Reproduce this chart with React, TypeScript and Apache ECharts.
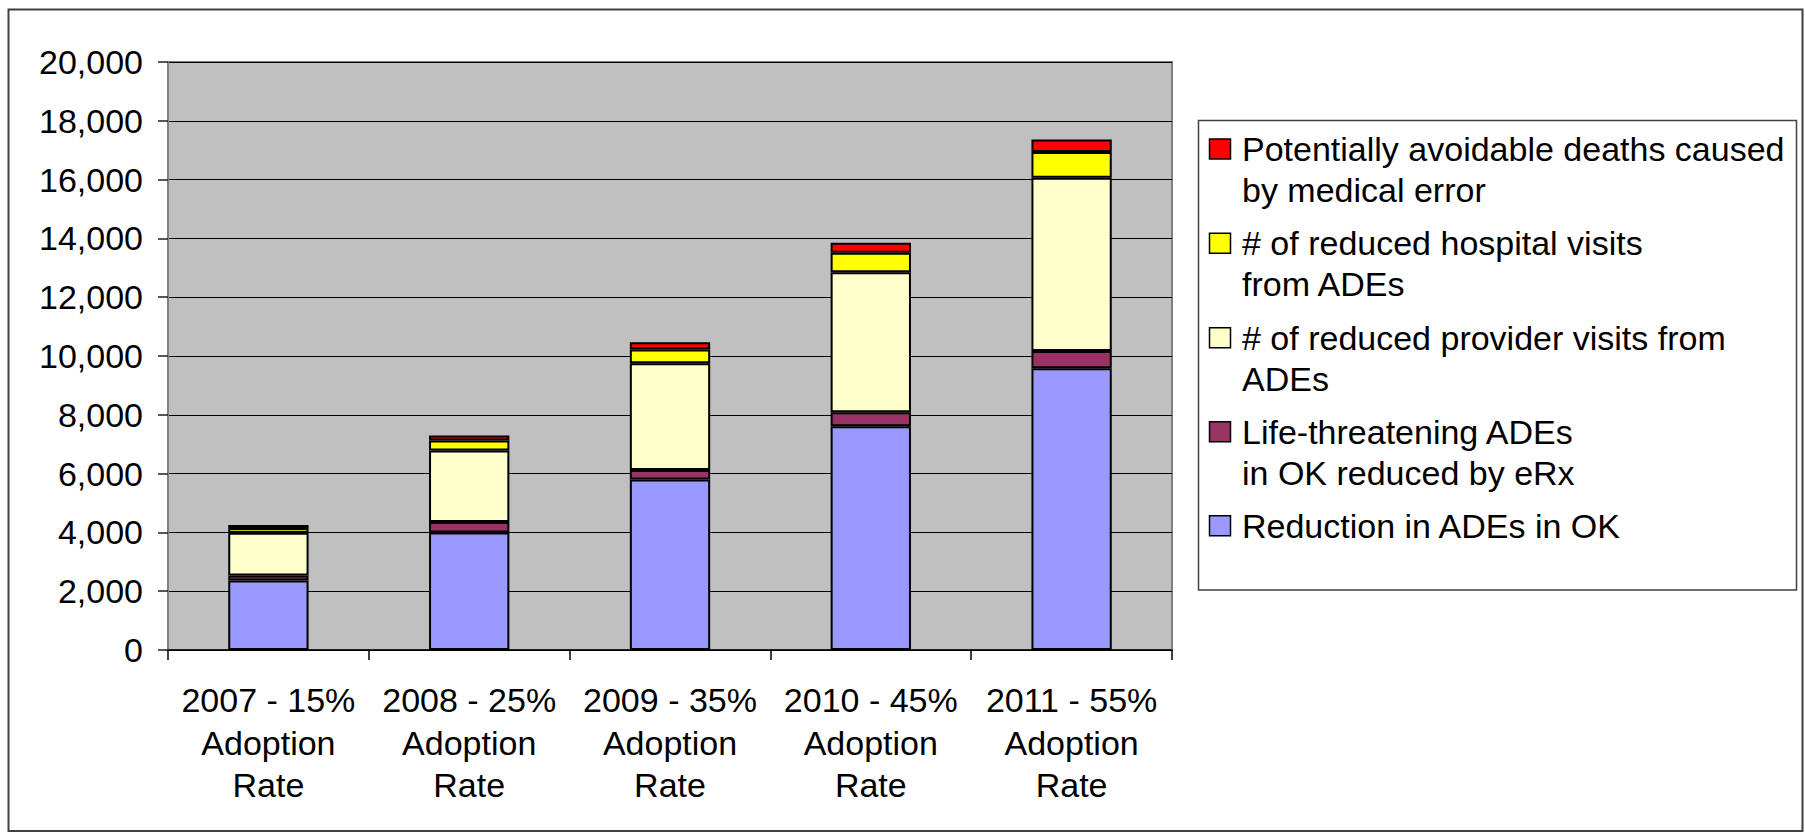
import React, { useEffect, useRef } from "react";
import * as echarts from "echarts";

const categories = [
  "2007 - 15%\nAdoption\nRate",
  "2008 - 25%\nAdoption\nRate",
  "2009 - 35%\nAdoption\nRate",
  "2010 - 45%\nAdoption\nRate",
  "2011 - 55%\nAdoption\nRate",
];

const reductionADEs = [2360, 4000, 5800, 7610, 9580];
const lifeThreatening = [170, 350, 320, 480, 590];
const providerVisits = [1460, 2435, 3630, 4760, 5890];
const hospitalVisits = [160, 340, 470, 660, 880];
const avoidableDeaths = [100, 170, 250, 340, 420];

const yTicks = [0, 2000, 4000, 6000, 8000, 10000, 12000, 14000, 16000, 18000, 20000];

const seriesNames = [
  "Reduction in ADEs in OK",
  "Life-threatening ADEs\nin OK reduced by eRx",
  "# of reduced provider visits from\nADEs",
  "# of reduced hospital visits\nfrom ADEs",
  "Potentially avoidable deaths caused\nby medical error",
];
const seriesColors = ["#9999FF", "#993366", "#FFFFCC", "#FFFF00", "#FF0000"];
const seriesData = [reductionADEs, lifeThreatening, providerVisits, hospitalVisits, avoidableDeaths];

const FONT = "'Liberation Sans', Arial, sans-serif";
const FS = 34;

export default function App() {
  const ref = useRef<HTMLDivElement>(null);

  useEffect(() => {
    if (!ref.current) return;
    const chart = echarts.init(ref.current, null, { renderer: "svg" });

    // legend drawn top item first (reverse stacking order)
    const legendOrder = [4, 3, 2, 1, 0];
    const legendCenters = [149, 243.3, 337.7, 431.7, 525.7];
    const legendGraphics: any[] = [
      {
        type: "rect",
        shape: { x: 1198.5, y: 120.5, width: 598, height: 469.5 },
        style: { fill: "#ffffff", stroke: "#404040", lineWidth: 1.5 },
        z: 10,
      },
    ];
    legendOrder.forEach((si, i) => {
      const c = legendCenters[i];
      legendGraphics.push({
        type: "rect",
        shape: { x: 1209.5, y: c - 10, width: 21, height: 20 },
        style: { fill: seriesColors[si], stroke: "#000000", lineWidth: 1.5 },
        z: 11,
      });
      legendGraphics.push({
        type: "text",
        x: 1242,
        y: c - 20.5,
        style: {
          text: seriesNames[si],
          fontSize: FS,
          fontFamily: FONT,
          lineHeight: 41,
          fill: "#000000",
          align: "left",
          verticalAlign: "top",
        },
        z: 11,
      });
    });

    const option: any = {
      animation: false,
      backgroundColor: "#ffffff",
      grid: {
        left: 168,
        top: 62,
        width: 1004,
        height: 588,
        show: true,
        backgroundColor: "#C0C0C0",
        borderColor: "#808080",
        borderWidth: 2,
        containLabel: false,
      },
      xAxis: {
        type: "category",
        data: categories,
        axisLine: { show: true, lineStyle: { color: "#000000", width: 1.5 } },
        axisTick: { show: true, length: 10, inside: false, lineStyle: { color: "#000000", width: 1.5 } },
        axisLabel: {
          interval: 0,
          margin: 29,
          fontSize: FS,
          fontFamily: FONT,
          color: "#000000",
          lineHeight: 42.5,
          align: "center",
        },
        splitLine: { show: false },
      },
      yAxis: {
        type: "value",
        min: 0,
        max: 20000,
        interval: 2000,
        axisLine: { show: true, lineStyle: { color: "#808080", width: 2 } },
        axisTick: { show: true, length: 10, inside: false, lineStyle: { color: "#202020", width: 1.5 } },
        axisLabel: {
          margin: 25,
          fontSize: FS,
          fontFamily: FONT,
          color: "#000000",
          formatter: (v: number) => (yTicks.includes(v) ? v.toLocaleString("en-US") : ""),
        },
        splitLine: { show: true, lineStyle: { color: "#000000", width: 1.2 } },
      },
      series: seriesData.map((d, i) => ({
        name: seriesNames[i],
        type: "bar",
        stack: "total",
        barWidth: "40%",
        data: d,
        itemStyle: { color: seriesColors[i], borderColor: "#000000", borderWidth: 2 },
      })),
      graphic: [
        {
          type: "rect",
          shape: { x: 8.5, y: 9.5, width: 1794, height: 821.5 },
          style: { fill: "none", stroke: "#404040", lineWidth: 2 },
          z: 1,
          silent: true,
        },
        ...legendGraphics,
      ],
    };

    chart.setOption(option);
    return () => chart.dispose();
  }, []);

  return (
    <div
      ref={ref}
      style={{ position: "fixed", left: 0, top: 0, width: 1805, height: 834, background: "#fff" }}
    />
  );
}
